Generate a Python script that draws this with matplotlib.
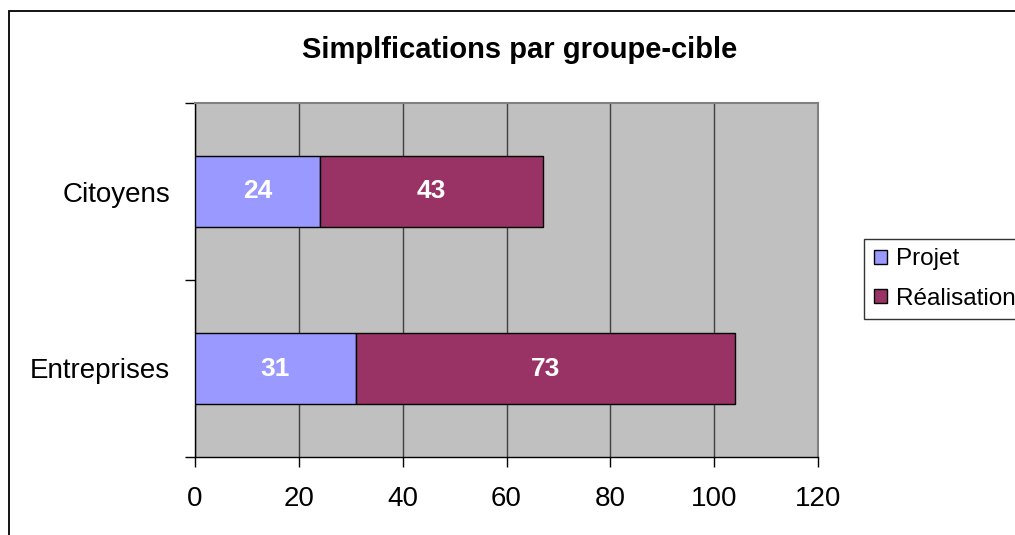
import matplotlib.pyplot as plt
from matplotlib.patches import Rectangle

categories = ['Entreprises', 'Citoyens']
projet = [31, 24]
realisation = [73, 43]
xticks = [0, 20, 40, 60, 80, 100, 120]

plt.rcParams['font.family'] = ['Liberation Sans', 'DejaVu Sans']

fig = plt.figure(figsize=(10.15, 5.35), dpi=100)
# outer chart border (right/bottom cut off like the source)
fig.patches.append(Rectangle((8.5 / 1015, -0.1), 1.2, 1.1 - 10.5 / 535,
                             transform=fig.transFigure, fill=False,
                             edgecolor='black', linewidth=1.3))

ax = fig.add_axes([195 / 1015, 1 - 457 / 535, 623 / 1015, 354 / 535])
ax.set_facecolor('#C0C0C0')

y = [0, 1]
b1 = ax.barh(y, projet, height=0.4, color='#9999FF', edgecolor='black',
             linewidth=1, label='Projet', zorder=3)
b2 = ax.barh(y, realisation, left=projet, height=0.4, color='#993366',
             edgecolor='black', linewidth=1, label='Réalisation', zorder=3)
for bars in (b1, b2):
    ax.bar_label(bars, label_type='center', color='white', fontsize=19,
                 fontweight='bold')

ax.set_xlim(0, 120)
ax.set_ylim(-0.5, 1.5)
ax.set_xticks(xticks)
ax.set_xticklabels([str(t) for t in xticks], fontsize=20)
ax.xaxis.grid(True, color='#404040', linewidth=1, zorder=1)
ax.set_axisbelow(True)

ax.set_yticks([-0.5, 0.5, 1.5])
ax.set_yticklabels([])
ax.set_yticks(y, minor=True)
ax.set_yticklabels(categories, minor=True, fontsize=20)
ax.tick_params(axis='y', which='minor', length=0, pad=18)
ax.tick_params(axis='y', which='major', length=7, width=1)
ax.tick_params(axis='x', length=7, width=1, pad=14)

for s in ('top', 'right'):
    ax.spines[s].set_color('#808080')
    ax.spines[s].set_linewidth(1.5)
for s in ('left', 'bottom'):
    ax.spines[s].set_color('black')
    ax.spines[s].set_linewidth(1)

fig.text(520 / 1015, 1 - 50 / 535, 'Simplfications par groupe-cible',
         ha='center', va='center', fontsize=21, fontweight='bold')

leg = ax.legend(loc='center left', bbox_to_anchor=(864 / 1015, 1 - 279 / 535),
                bbox_transform=fig.transFigure, fontsize=17.5, frameon=True,
                fancybox=False, handlelength=0.55, handleheight=0.55,
                handletextpad=0.35, borderpad=0.4, labelspacing=0.7,
                borderaxespad=0)
leg.get_frame().set_edgecolor('black')
leg.get_frame().set_linewidth(1)

fig.savefig('out.png', dpi=100)
